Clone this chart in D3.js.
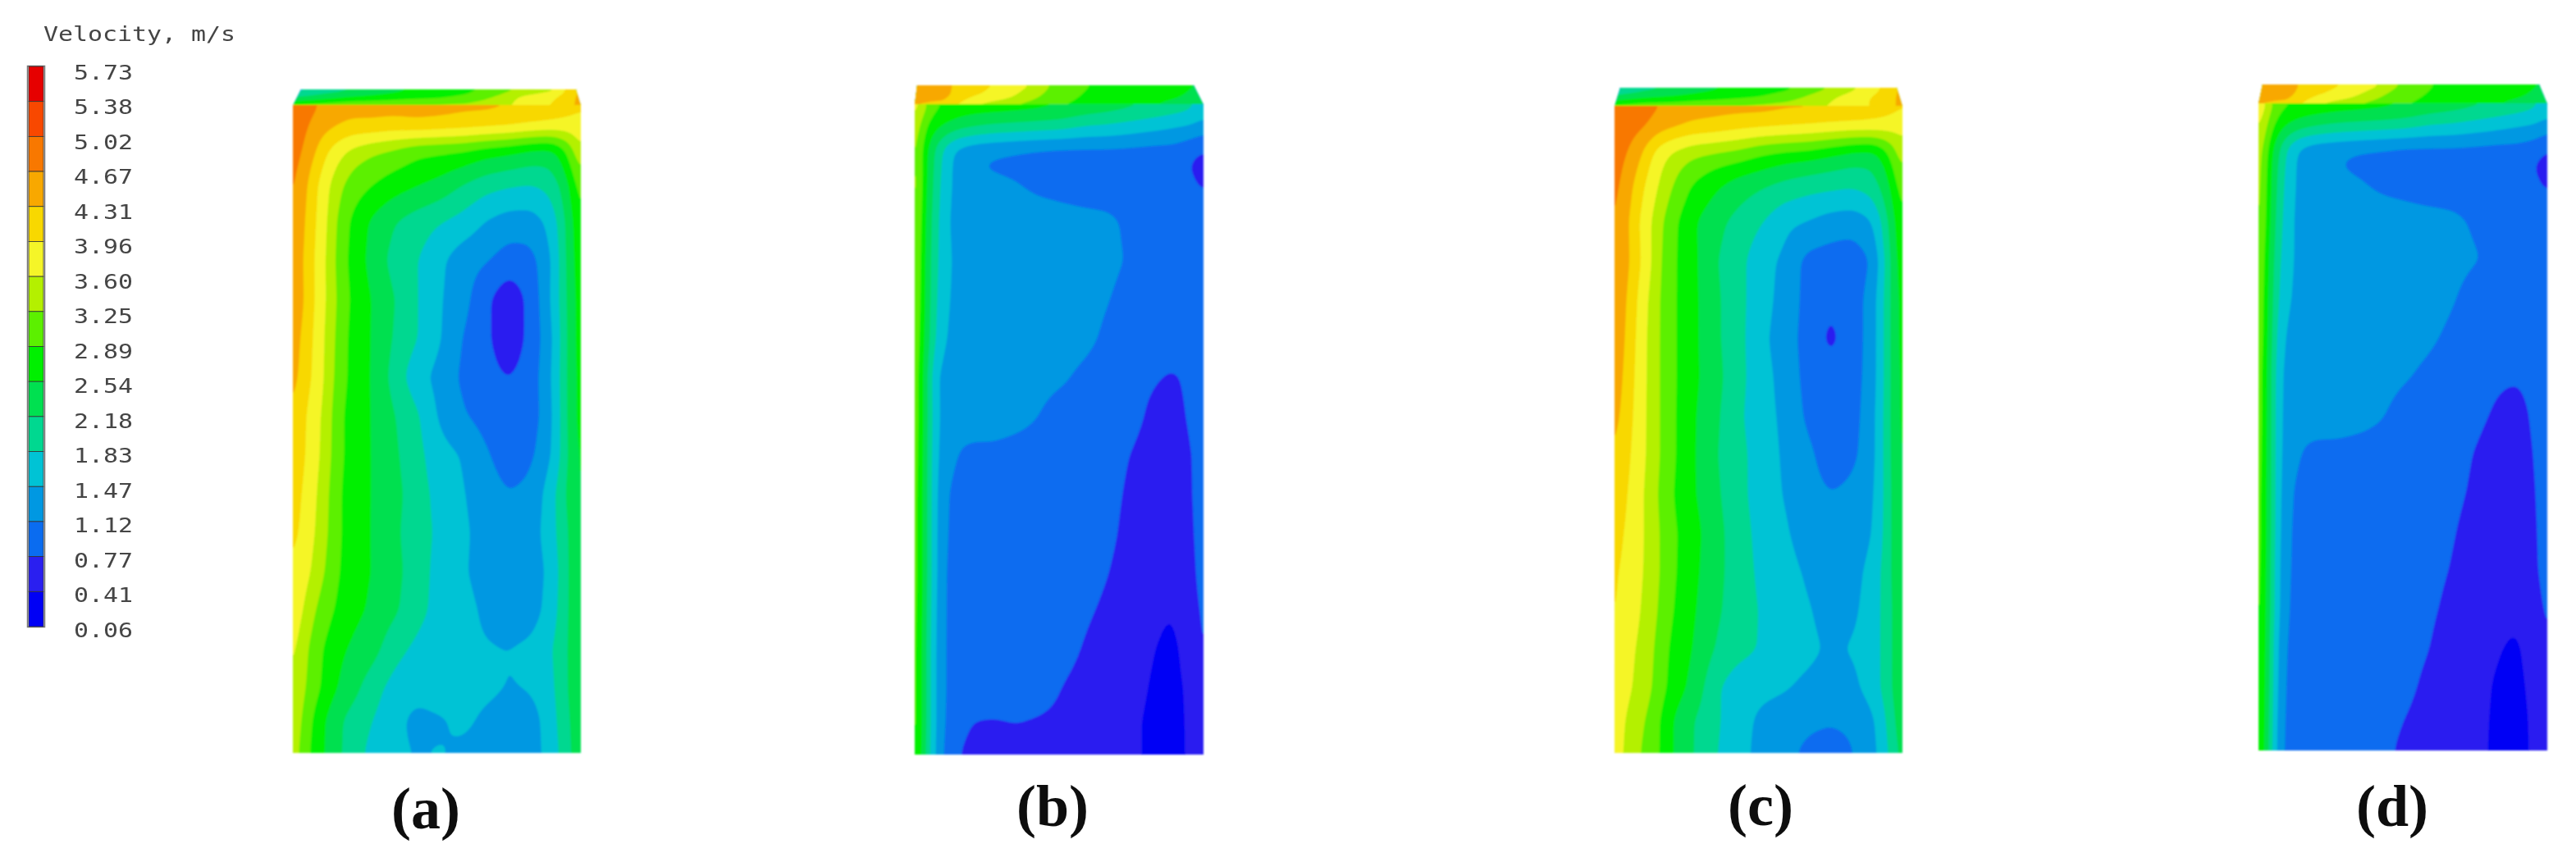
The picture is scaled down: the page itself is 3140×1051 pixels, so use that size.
<!DOCTYPE html>
<html><head><meta charset="utf-8">
<script src="https://cdn.jsdelivr.net/npm/d3@7"></script>
<style>html,body{margin:0;background:#fff;overflow:hidden}svg{display:block}</style>
</head><body><svg id="c" width="3140" height="1051"></svg>
<script>
const legendLabels=["5.73","5.38","5.02","4.67","4.31","3.96","3.60","3.25","2.89","2.54","2.18","1.83","1.47","1.12","0.77","0.41","0.06"];
const bandColors=["#e60000","#f84800","#f87800","#f8a800","#f8d800","#f5f528","#b4f000","#5cf000","#00f000","#00e050","#00d890","#00c3d5","#0098e2","#0a6cf0","#2a1ff0","#0000f5"];
const panelLetters=["(a)","(b)","(c)","(d)"];
const gridX=[0,.03,.07,.11,.15,.2,.27,.35,.43,.51,.59,.67,.75,.83,.9,.96,1];
const gridY=[0,.03,.07,.095,.125,.18,.24,.3,.36,.42,.48,.54,.6,.66,.72,.78,.84,.9,.95,1];
const lidX=[0,.1,.2,.3,.4,.5,.6,.7,.8,.9,1];
const lidY=[0,.5,1];
const bodyA=[
[4.95,4.85,4.75,4.6,4.5,4.45,4.45,4.45,4.45,4.45,4.4,4.4,4.35,4.3,4.2,4.1,4.0],
[4.9,4.8,4.6,4.45,4.35,4.25,4.25,4.2,4.25,4.2,4.15,4.1,4.05,3.95,3.9,3.85,3.85],
[4.85,4.7,4.4,4.05,3.8,3.55,3.35,3.2,3.0,2.95,2.9,2.75,2.65,2.5,2.45,3.0,3.7],
[4.82,4.6,4.25,3.9,3.6,3.3,3.1,2.95,2.8,2.7,2.55,2.35,2.25,2.15,2.2,2.75,3.45],
[4.8,4.5,4.1,3.75,3.4,3.1,2.9,2.7,2.55,2.4,2.15,1.95,1.85,1.8,1.95,2.5,3.2],
[4.75,4.4,4.05,3.7,3.25,2.85,2.5,2.2,2.0,1.85,1.7,1.45,1.3,1.3,1.6,2.35,2.95],
[4.65,4.35,4.0,3.65,3.2,2.8,2.45,2.05,1.85,1.55,1.25,1.15,0.95,1.0,1.45,2.35,2.85],
[4.6,4.4,4.0,3.65,3.25,2.85,2.55,2.2,1.85,1.5,1.25,0.85,0.5,0.9,1.5,2.3,2.8],
[4.5,4.3,3.95,3.6,3.2,2.8,2.55,2.15,1.85,1.5,1.1,0.85,0.5,0.9,1.4,2.3,2.8],
[4.45,4.25,3.9,3.6,3.15,2.8,2.55,2.05,1.6,1.35,1.05,0.9,0.75,0.95,1.45,2.3,2.75],
[4.35,4.1,3.75,3.55,3.05,2.75,2.55,2.2,1.9,1.4,1.15,1.0,0.9,0.95,1.4,2.3,2.75],
[4.3,4.05,3.75,3.5,3.05,2.75,2.55,2.25,1.95,1.6,1.45,1.15,0.98,1.05,1.45,2.25,2.7],
[4.2,3.95,3.7,3.4,3.0,2.7,2.55,2.3,2.0,1.7,1.5,1.25,1.12,1.2,1.7,2.3,2.65],
[4.1,3.9,3.65,3.35,3.0,2.7,2.55,2.25,2.0,1.75,1.55,1.3,1.25,1.3,1.7,2.2,2.6],
[3.95,3.8,3.55,3.25,2.95,2.7,2.55,2.3,2.0,1.7,1.52,1.3,1.2,1.25,1.6,2.2,2.6],
[3.85,3.65,3.3,3.05,2.85,2.65,2.5,2.25,1.95,1.7,1.6,1.4,1.25,1.3,1.65,2.2,2.6],
[3.75,3.45,3.1,2.85,2.65,2.5,2.35,1.95,1.75,1.6,1.55,1.5,1.47,1.55,1.8,2.2,2.6],
[3.65,3.35,3.05,2.8,2.55,2.35,2.0,1.7,1.6,1.7,1.6,1.55,1.45,1.5,1.75,2.2,2.6],
[3.55,3.25,2.85,2.55,2.3,2.05,1.85,1.6,1.35,1.42,1.55,1.4,1.3,1.3,1.7,2.15,2.5],
[3.45,3.2,2.75,2.55,2.3,2.0,1.75,1.55,1.45,1.5,1.4,1.3,1.15,1.3,1.65,2.1,2.5]];
const bodyB=[
[3.95,3.4,2.95,2.9,2.85,2.8,2.8,2.75,2.7,2.6,2.5,2.4,2.3,2.2,2.1,1.95,1.7],
[3.7,3.0,2.7,2.55,2.4,2.3,2.2,2.15,2.1,2.05,1.9,1.85,1.75,1.65,1.55,1.5,1.35],
[3.6,2.75,2.15,1.65,1.38,1.25,1.18,1.13,1.08,1.05,1.05,1.05,1.03,1.0,1.0,0.85,0.75],
[3.65,2.72,2.1,1.6,1.32,1.14,1.08,1.05,1.02,1.0,1.0,1.0,1.0,0.98,0.9,0.74,0.66],
[3.7,2.7,2.05,1.55,1.35,1.25,1.2,1.14,1.05,1.0,0.95,0.95,0.95,0.95,0.92,0.83,0.7],
[3.6,2.65,1.95,1.52,1.3,1.3,1.3,1.3,1.28,1.25,1.22,1.18,1.05,1.0,1.0,0.95,1.1],
[3.55,2.6,1.9,1.55,1.35,1.35,1.38,1.38,1.35,1.35,1.3,1.2,1.08,1.0,1.0,1.0,1.15],
[3.5,2.6,1.85,1.5,1.35,1.35,1.38,1.38,1.35,1.35,1.25,1.13,1.0,1.0,1.0,1.0,1.15],
[3.45,2.55,1.8,1.42,1.35,1.35,1.35,1.32,1.3,1.25,1.2,1.05,0.95,0.95,0.95,1.0,1.15],
[3.4,2.5,1.5,1.3,1.3,1.3,1.3,1.28,1.2,1.16,1.05,0.95,0.88,0.8,0.72,0.88,1.1],
[3.4,2.5,1.55,1.28,1.25,1.25,1.25,1.2,1.12,1.0,0.95,0.92,0.88,0.68,0.62,0.85,1.05],
[3.35,2.5,1.5,1.25,1.1,1.05,1.05,1.02,1.0,0.98,0.95,0.9,0.76,0.6,0.55,0.75,1.0],
[3.3,2.5,1.48,1.13,1.0,1.0,1.0,1.0,1.0,0.98,0.95,0.88,0.7,0.55,0.52,0.74,1.0],
[3.3,2.5,1.47,1.1,1.0,1.0,1.0,1.0,1.0,1.0,0.95,0.85,0.65,0.52,0.5,0.7,1.0],
[3.3,2.5,1.48,1.05,1.0,1.0,1.0,1.0,1.0,0.98,0.9,0.78,0.6,0.5,0.48,0.65,0.98],
[3.3,2.45,1.45,1.05,1.0,1.0,1.0,1.0,0.98,0.92,0.82,0.7,0.55,0.45,0.41,0.6,0.9],
[3.3,2.4,1.42,1.05,1.0,1.0,1.0,0.98,0.95,0.88,0.74,0.6,0.5,0.41,0.35,0.55,0.85],
[3.3,2.4,1.42,1.05,1.0,1.0,0.98,0.95,0.9,0.76,0.65,0.55,0.48,0.38,0.34,0.47,0.8],
[3.3,2.4,1.42,1.05,0.9,0.76,0.74,0.78,0.74,0.7,0.6,0.52,0.45,0.36,0.33,0.46,0.72],
[3.25,2.35,1.4,1.0,0.78,0.65,0.62,0.62,0.62,0.6,0.55,0.5,0.45,0.36,0.34,0.45,0.6]];
const bodyC=[
[4.95,4.9,4.85,4.8,4.7,4.6,4.5,4.45,4.45,4.45,4.4,4.4,4.35,4.35,4.2,4.1,4.0],
[4.9,4.85,4.8,4.7,4.5,4.4,4.25,4.2,4.1,4.05,4.0,3.95,3.9,3.85,3.85,3.8,3.7],
[4.85,4.75,4.55,4.2,3.85,3.6,3.4,3.3,3.2,3.0,2.9,2.85,2.7,2.55,2.5,3.0,3.6],
[4.82,4.68,4.4,4.05,3.7,3.4,3.1,2.9,2.75,2.6,2.45,2.35,2.25,2.15,2.2,2.75,3.4],
[4.8,4.6,4.25,3.9,3.6,3.25,2.85,2.6,2.35,2.2,2.05,1.95,1.9,1.85,2.0,2.55,3.2],
[4.75,4.5,4.1,3.75,3.4,3.0,2.6,2.3,2.05,1.85,1.55,1.45,1.3,1.25,1.45,2.3,3.0],
[4.75,4.5,4.15,3.8,3.35,2.95,2.65,2.2,1.95,1.6,1.4,1.0,0.95,0.92,1.15,2.2,2.9],
[4.7,4.4,4.05,3.65,3.3,2.95,2.65,2.25,1.95,1.6,1.35,1.0,0.8,0.95,1.3,2.2,2.8],
[4.65,4.35,4.0,3.6,3.3,2.95,2.65,2.25,1.95,1.55,1.3,0.98,0.68,0.95,1.3,2.2,2.8],
[4.55,4.3,3.95,3.6,3.3,2.95,2.65,2.3,1.95,1.6,1.35,1.0,0.88,0.98,1.3,2.2,2.75],
[4.45,4.25,3.9,3.6,3.3,2.95,2.6,2.25,1.9,1.6,1.4,1.05,0.9,1.0,1.35,2.2,2.75],
[4.35,4.15,3.85,3.6,3.3,2.95,2.6,2.2,1.95,1.65,1.42,1.2,0.95,1.05,1.35,2.2,2.7],
[4.25,4.05,3.8,3.55,3.25,2.9,2.6,2.25,1.95,1.65,1.45,1.25,1.12,1.2,1.4,2.15,2.7],
[4.15,3.95,3.8,3.55,3.3,2.95,2.7,2.3,2.0,1.7,1.52,1.3,1.25,1.28,1.45,2.15,2.65],
[4.05,3.9,3.75,3.55,3.3,2.95,2.65,2.3,2.0,1.75,1.6,1.42,1.3,1.35,1.6,2.15,2.6],
[4.0,3.9,3.7,3.5,3.25,2.9,2.6,2.25,2.0,1.8,1.65,1.5,1.35,1.4,1.65,2.1,2.6],
[3.95,3.8,3.6,3.45,3.15,2.8,2.55,2.15,1.95,1.8,1.6,1.55,1.42,1.5,1.65,2.1,2.6],
[3.9,3.75,3.55,3.4,3.1,2.75,2.45,1.9,1.6,1.55,1.5,1.4,1.3,1.38,1.65,2.1,2.6],
[3.8,3.65,3.4,3.25,2.95,2.55,2.2,1.9,1.6,1.4,1.3,1.18,1.14,1.18,1.4,2.0,2.5],
[3.8,3.6,3.35,3.15,2.95,2.55,2.2,1.85,1.6,1.35,1.2,1.05,1.0,1.1,1.35,1.9,2.4]];
const bodyD=[
[4.1,3.5,3.0,2.95,2.9,2.85,2.8,2.75,2.7,2.6,2.5,2.4,2.3,2.2,2.1,1.95,1.7],
[3.9,3.2,2.75,2.55,2.4,2.3,2.2,2.15,2.1,2.05,1.9,1.85,1.75,1.65,1.55,1.5,1.35],
[3.7,2.9,2.2,1.65,1.38,1.25,1.2,1.14,1.1,1.05,1.05,1.05,1.03,1.0,1.0,0.92,0.74],
[3.7,2.8,2.1,1.6,1.32,1.25,1.13,1.05,1.02,1.0,1.0,1.0,1.0,0.98,0.95,0.74,0.66],
[3.7,2.75,2.05,1.55,1.35,1.28,1.22,1.15,1.05,1.0,0.95,0.95,0.95,0.95,0.92,0.82,0.7],
[3.65,2.7,1.95,1.52,1.32,1.3,1.3,1.3,1.28,1.25,1.22,1.18,1.08,1.0,1.0,0.95,1.0],
[3.55,2.6,1.85,1.5,1.35,1.35,1.38,1.38,1.35,1.35,1.3,1.22,1.14,1.05,1.0,1.0,1.1],
[3.5,2.55,1.75,1.45,1.35,1.35,1.38,1.38,1.35,1.35,1.28,1.15,1.0,1.0,1.0,1.0,1.1],
[3.45,2.55,1.6,1.35,1.32,1.32,1.32,1.32,1.3,1.25,1.18,1.05,0.95,0.95,0.95,0.95,1.1],
[3.4,2.5,1.5,1.3,1.3,1.3,1.3,1.28,1.22,1.15,1.05,0.95,0.9,0.82,0.8,0.9,1.1],
[3.4,2.5,1.48,1.28,1.25,1.25,1.25,1.22,1.14,1.0,0.95,0.92,0.85,0.72,0.65,0.85,1.05],
[3.35,2.5,1.47,1.25,1.1,1.05,1.05,1.02,1.0,0.98,0.95,0.88,0.76,0.62,0.58,0.8,1.0],
[3.3,2.5,1.47,1.15,1.0,1.0,1.0,1.0,1.0,1.0,0.95,0.85,0.72,0.55,0.52,0.76,1.0],
[3.3,2.5,1.45,1.1,1.0,1.0,1.0,1.0,1.0,0.98,0.9,0.8,0.65,0.52,0.5,0.72,1.0],
[3.3,2.45,1.42,1.08,1.0,1.0,1.0,1.0,0.98,0.95,0.85,0.76,0.58,0.5,0.48,0.7,0.98],
[3.25,2.45,1.4,1.05,1.0,1.0,1.0,0.98,0.95,0.9,0.82,0.7,0.55,0.47,0.44,0.6,0.9],
[3.25,2.4,1.3,1.02,1.0,1.0,1.0,0.97,0.92,0.88,0.78,0.62,0.5,0.42,0.38,0.52,0.78],
[3.2,2.4,1.25,1.0,1.0,1.0,0.98,0.95,0.9,0.84,0.7,0.58,0.48,0.38,0.36,0.48,0.7],
[3.2,2.35,1.2,1.0,1.0,0.98,0.95,0.9,0.84,0.77,0.65,0.55,0.47,0.37,0.34,0.46,0.65],
[3.2,2.3,1.18,0.98,0.98,0.95,0.9,0.88,0.82,0.72,0.62,0.55,0.47,0.36,0.34,0.45,0.6]];
const lidA=[[1.6,1.9,2.1,2.3,2.5,2.6,2.75,3.0,3.3,3.5,4.4],[2.2,2.4,2.6,2.7,2.8,2.85,3.0,3.3,3.7,3.9,4.4],[3.1,3.2,3.3,3.3,3.35,3.4,3.4,3.5,3.7,4.0,4.4]];
const lidB=[[4.4,4.4,4.1,3.9,3.6,3.1,2.9,2.8,2.7,2.65,2.5],[4.4,4.4,4.0,3.8,3.4,3.0,2.85,2.8,2.7,2.6,2.4],[4.3,4.2,3.6,3.3,3.1,2.9,2.8,2.7,2.6,2.4,2.2]];
const lidC=[[1.7,2.0,2.2,2.4,2.55,2.65,2.8,3.1,3.4,3.8,4.4],[2.3,2.5,2.6,2.7,2.8,2.9,3.1,3.4,3.7,4.0,4.4],[3.1,3.2,3.2,3.3,3.35,3.4,3.45,3.55,3.75,4.0,4.4]];
const lidD=[[4.4,4.45,4.1,3.95,3.7,3.2,2.9,2.8,2.75,2.65,2.5],[4.4,4.4,4.0,3.8,3.4,3.0,2.85,2.8,2.7,2.6,2.4],[4.3,4.2,3.6,3.3,3.1,2.9,2.8,2.7,2.6,2.4,2.2]];

const layout=[
 {l:357,r:708,back:109,front:128,bottom:918,bl:367,br:702,lx:519,ly:1010,body:bodyA,lid:lidA},
 {l:1115,r:1467,back:104,front:127,bottom:920,bl:1118,br:1455,lx:1283,ly:1007,body:bodyB,lid:lidB},
 {l:1968,r:2319,back:107,front:129,bottom:918,bl:1975,br:2312,lx:2146,ly:1006,body:bodyC,lid:lidC},
 {l:2753,r:3105,back:103,front:126,bottom:915,bl:2758,br:3095,lx:2916,ly:1007,body:bodyD,lid:lidD}];

const svg=d3.select("#c");
const defs=svg.append("defs");
defs.append("filter").attr("id","soft").attr("x","-5%").attr("y","-5%").attr("width","110%").attr("height","110%")
  .append("feGaussianBlur").attr("stdDeviation",0.9);
defs.append("filter").attr("id","softText").attr("x","-10%").attr("y","-50%").attr("width","120%").attr("height","200%")
  .append("feGaussianBlur").attr("stdDeviation",0.55);

const levels=legendLabels.map(Number).slice().reverse();
const thresholds=levels.slice(1,-1);
const colorOf=d3.scaleThreshold().domain(thresholds).range(bandColors.slice().reverse());

function field(g,rows,xf,yf,rangeX,rangeY,clipId,radius){
  const cell=2;
  const W=Math.round((rangeX[1]-rangeX[0])/cell),H=Math.round((rangeY[1]-rangeY[0])/cell);
  const ix=d3.scaleLinear().domain(xf).range(d3.range(xf.length)).clamp(true);
  const iy=d3.scaleLinear().domain(yf).range(d3.range(yf.length)).clamp(true);
  const fine=new Float64Array(W*H);
  for(let j=0;j<H;j++){
    const v=iy((j+.5)/H),j0=Math.min(Math.floor(v),yf.length-2),tv=v-j0;
    for(let i=0;i<W;i++){
      const u=ix((i+.5)/W),i0=Math.min(Math.floor(u),xf.length-2),tu=u-i0;
      fine[j*W+i]=(rows[j0][i0]*(1-tu)+rows[j0][i0+1]*tu)*(1-tv)+(rows[j0+1][i0]*(1-tu)+rows[j0+1][i0+1]*tu)*tv;
    }
  }
  if(radius>0) d3.blur2({data:fine,width:W,height:H},radius);
  const sx=d3.scaleLinear().domain([0,W]).range(rangeX),sy=d3.scaleLinear().domain([0,H]).range(rangeY);
  const path=d3.geoPath(d3.geoTransform({point(x,y){this.stream.point(sx(x),sy(y));}}));
  const layer=g.append("g").attr("clip-path",`url(#${clipId})`);
  layer.append("rect").attr("x",rangeX[0]).attr("y",rangeY[0]).attr("width",rangeX[1]-rangeX[0]).attr("height",rangeY[1]-rangeY[0]).attr("fill",colorOf(0));
  const cs=d3.contours().size([W,H]).thresholds(thresholds)(fine);
  layer.selectAll("path").data(cs).join("path").attr("d",path).attr("fill",d=>colorOf(d.value)).attr("stroke",d=>colorOf(d.value)).attr("stroke-width",.4);
}

layout.forEach((p,i)=>{
  const g=svg.append("g").attr("filter","url(#soft)");
  defs.append("clipPath").attr("id","cb"+i).append("rect").attr("x",p.l).attr("y",p.front).attr("width",p.r-p.l).attr("height",p.bottom-p.front);
  defs.append("clipPath").attr("id","ct"+i).append("polygon").attr("points",[[p.bl,p.back],[p.br,p.back],[p.r,p.front+1],[p.l,p.front+1]].join(" "));
  field(g,p.lid,lidX,lidY,[p.l,p.r],[p.back,p.front+2],"ct"+i,1);
  field(g,p.body,gridX,gridY,[p.l,p.r],[p.front,p.bottom],"cb"+i,3);
  svg.append("text").text(panelLetters[i]).attr("x",p.lx).attr("y",p.ly).attr("text-anchor","middle")
    .attr("font-family","Liberation Serif").attr("font-weight","bold").attr("font-size",72).attr("fill","#111").attr("filter","url(#softText)");
});

// legend
const cellY=d3.scaleBand().domain(bandColors).range([81,764]);
const lg=svg.append("g");
lg.append("rect").attr("x",33.5).attr("y",80.5).attr("width",21).attr("height",684).attr("fill","none").attr("stroke","#777").attr("stroke-width",1.5);
lg.selectAll("rect.c").data(bandColors).join("rect").attr("class","c")
  .attr("x",35).attr("width",18).attr("y",d=>cellY(d)).attr("height",cellY.bandwidth()).attr("fill",d=>d).attr("stroke","#333").attr("stroke-width",.8);
const labelY=d3.scalePoint().domain(legendLabels).range([88,768]);
const ax=svg.append("g").attr("transform","translate(90,0)").call(d3.axisRight(labelY).tickSize(0).tickPadding(0));
ax.select(".domain").remove();
ax.selectAll("text").attr("font-family","DejaVu Sans Mono").attr("font-size",25).attr("fill","#444").attr("textLength",72).attr("lengthAdjust","spacingAndGlyphs").attr("filter","url(#softText)");
svg.append("text").text("Velocity, m/s").attr("x",53).attr("y",42).attr("dy","0.32em").attr("font-family","DejaVu Sans Mono").attr("font-size",25).attr("fill","#444")
  .attr("textLength",234).attr("lengthAdjust","spacingAndGlyphs").attr("filter","url(#softText)");
</script></body></html>
